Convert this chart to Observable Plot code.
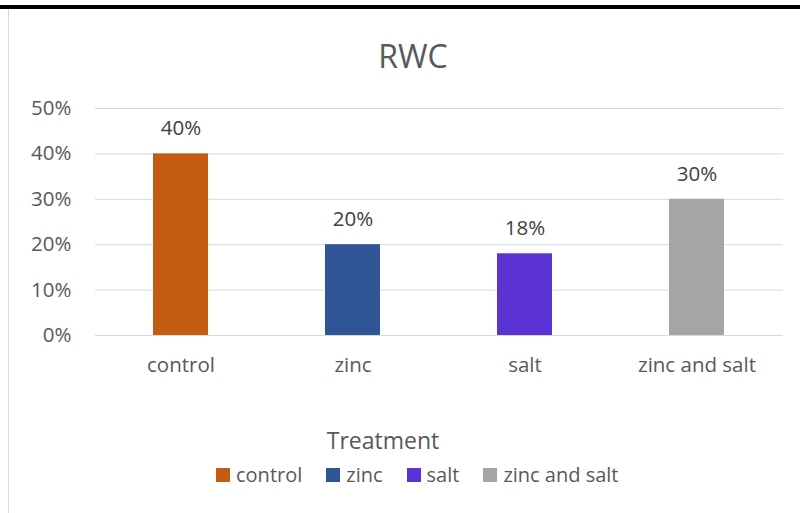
<!DOCTYPE html>
<html>
<head>
<meta charset="utf-8">
<script src="https://cdn.jsdelivr.net/npm/d3@7"></script>
<script src="https://cdn.jsdelivr.net/npm/@observablehq/plot@0.6"></script>
<style>
  body { margin: 0; background: #fff; font-family: "Open Sans", sans-serif; }
  #wrap { position: relative; width: 800px; height: 513px; overflow: hidden; }
  .topline { position: absolute; left: 0; top: 5px; width: 800px; height: 4px; background: #000; }
  .leftline { position: absolute; left: 8px; top: 9px; width: 1px; height: 504px; background: #d9d9d9; }
  #title { position: absolute; left: 313px; width: 200px; top: 40px; text-align: center; font-size: 32px; line-height: 32px; color: #595959; }
  #ltitle { position: absolute; left: 283px; width: 200px; top: 429px; text-align: center; font-size: 23px; line-height: 23px; color: #595959; }
  #legend { position: absolute; left: 216px; top: 464px; display: flex; align-items: center; font-size: 20px; line-height: 22px; color: #595959; white-space: nowrap; }
  #legend .item { display: flex; align-items: center; margin-right: 24px; }
  #legend .sw { width: 14px; height: 14px; margin-right: 6px; }
  #chart { position: absolute; left: 0; top: 0; }
</style>
</head>
<body>
<div id="wrap">
  <div id="chart"></div>
  <div class="topline"></div>
  <div class="leftline"></div>
  <div id="title"></div>
  <div id="ltitle"></div>
  <div id="legend"></div>
</div>
<script>
const categories = ["control", "zinc", "salt", "zinc and salt"];
const values = [0.40, 0.20, 0.18, 0.30];
const colors = ["#C55A11", "#2F5597", "#5B33D4", "#A5A5A5"];
const yTicks = [0, 0.1, 0.2, 0.3, 0.4, 0.5];
const chartTitle = "RWC";
const legendTitle = "Treatment";

const data = categories.map((c, i) => ({ treatment: c, value: values[i] }));
const fmt = d3.format(".0%");
const FONT = "'Open Sans', sans-serif";

const plot = Plot.plot({
  width: 800,
  height: 513,
  marginTop: 108,
  marginBottom: 178,
  marginLeft: 95,
  marginRight: 17,
  style: { fontFamily: FONT, fontSize: "20.5px", color: "#595959", background: "transparent" },
  x: { domain: categories, paddingInner: 0.68, paddingOuter: 0.34, label: null },
  y: { domain: [0, 0.5], ticks: yTicks, label: null },
  color: { domain: categories, range: colors },
  marks: [
    Plot.gridY(yTicks, { stroke: "#d9d9d9", strokeOpacity: 1, strokeWidth: 1 }),
    Plot.barY(data, { x: "treatment", y: "value", fill: "treatment" }),
    Plot.text(data, { x: "treatment", y: "value", text: d => fmt(d.value), dy: -25, fill: "#404040", fontSize: 20.5 }),
    Plot.axisY(yTicks, { tickSize: 0, tickPadding: 24, tickFormat: fmt, fill: "#595959", fontSize: 20.5, label: null }),
    Plot.axisX({ tickSize: 0, tickPadding: 22, fill: "#595959", fontSize: 20.5, label: null })
  ]
});
document.getElementById("chart").appendChild(plot);

document.getElementById("title").textContent = chartTitle;
document.getElementById("ltitle").textContent = legendTitle;
const leg = document.getElementById("legend");
categories.forEach((c, i) => {
  const it = document.createElement("div");
  it.className = "item";
  const sw = document.createElement("div");
  sw.className = "sw";
  sw.style.background = colors[i];
  const tx = document.createElement("span");
  tx.textContent = c;
  it.appendChild(sw); it.appendChild(tx);
  leg.appendChild(it);
});
</script>
</body>
</html>
